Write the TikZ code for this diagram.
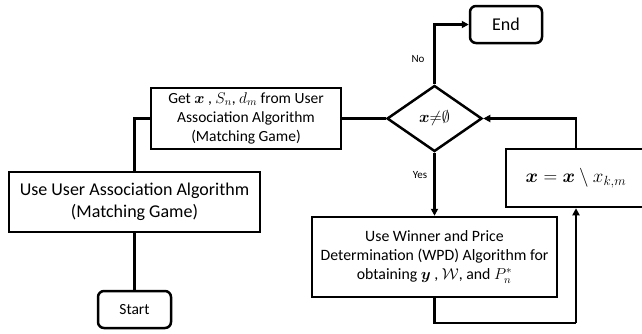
\documentclass[tikz,border=0pt]{standalone}
\usepackage{fix-cm}
\usepackage{amsmath,amssymb,bm}
\usepackage{fontspec}
\setmainfont{Carlito}
\usetikzlibrary{shapes.geometric,arrows.meta}
\begin{document}
\begin{tikzpicture}[x=1pt,y=-1pt,
  box/.style={draw,line width=2.5pt,align=center,inner sep=0pt},
  term/.style={box,rounded corners=6pt},
  conn/.style={line width=2.5pt},
  arr/.style={conn,-{Triangle[length=7pt,width=7pt]}},
  lbl/.style={font=\fontsize{11}{12}\selectfont}]
\useasboundingbox (0,0) rectangle (642,333);
\node[term,minimum width=72pt,minimum height=37pt,font=\fontsize{18}{20}\selectfont] (endn) at (506,24.5) {End};
\node[draw,line width=2.5pt,diamond,minimum width=95pt,minimum height=66pt,inner sep=0pt,font=\fontsize{16}{18}\selectfont] (dia) at (434.5,118.5) {$\bm{x}{\neq}\emptyset$};
\node[box,minimum width=190pt,minimum height=61pt,font=\fontsize{15.5}{19}\selectfont] (get) at (246,118.5) {Get $\bm{x}$ , $S_n$, $d_m$ from User\\Association Algorithm\\(Matching Game)};
\node[box,minimum width=251pt,minimum height=60pt,font=\fontsize{18}{22}\selectfont] (use) at (134.5,202) {Use User Association Algorithm\\(Matching Game)};
\node[term,minimum width=73pt,minimum height=37pt,font=\fontsize{15.5}{18}\selectfont] (start) at (134.5,309.5) {Start};
\node[box,minimum width=245pt,minimum height=80pt,font=\fontsize{15.8}{19}\selectfont] (wpd) at (434.5,257) {Use Winner and Price\\Determination (WPD) Algorithm for\\obtaining $\bm{y}$ , $\mathcal{W}$, and $P_n^*$};
\node[box,minimum width=140pt,minimum height=58pt,font=\fontsize{19}{22}\selectfont] (xb) at (576,178) {$\bm{x} = \bm{x} \setminus x_{k,m}$};
\coordinate (bot) at (576,323);
\draw[arr] (dia.north) |- (endn.west);
\draw[arr] (dia.south) -- (dia.south |- wpd.north);
\draw[conn] (dia.west) -- (get.east);
\draw[conn] (get.west) -| (use.north);
\draw[conn] (use.south) -- (start.north);
\draw[conn] (wpd.south) |- (bot);
\draw[arr] (bot) -- (xb.south);
\draw[arr] (xb.north) |- (dia.east);
\node[lbl] (no) at (418,59) {No};
\node[lbl] (yes) at (420,175) {Yes};
\end{tikzpicture}
\end{document}
